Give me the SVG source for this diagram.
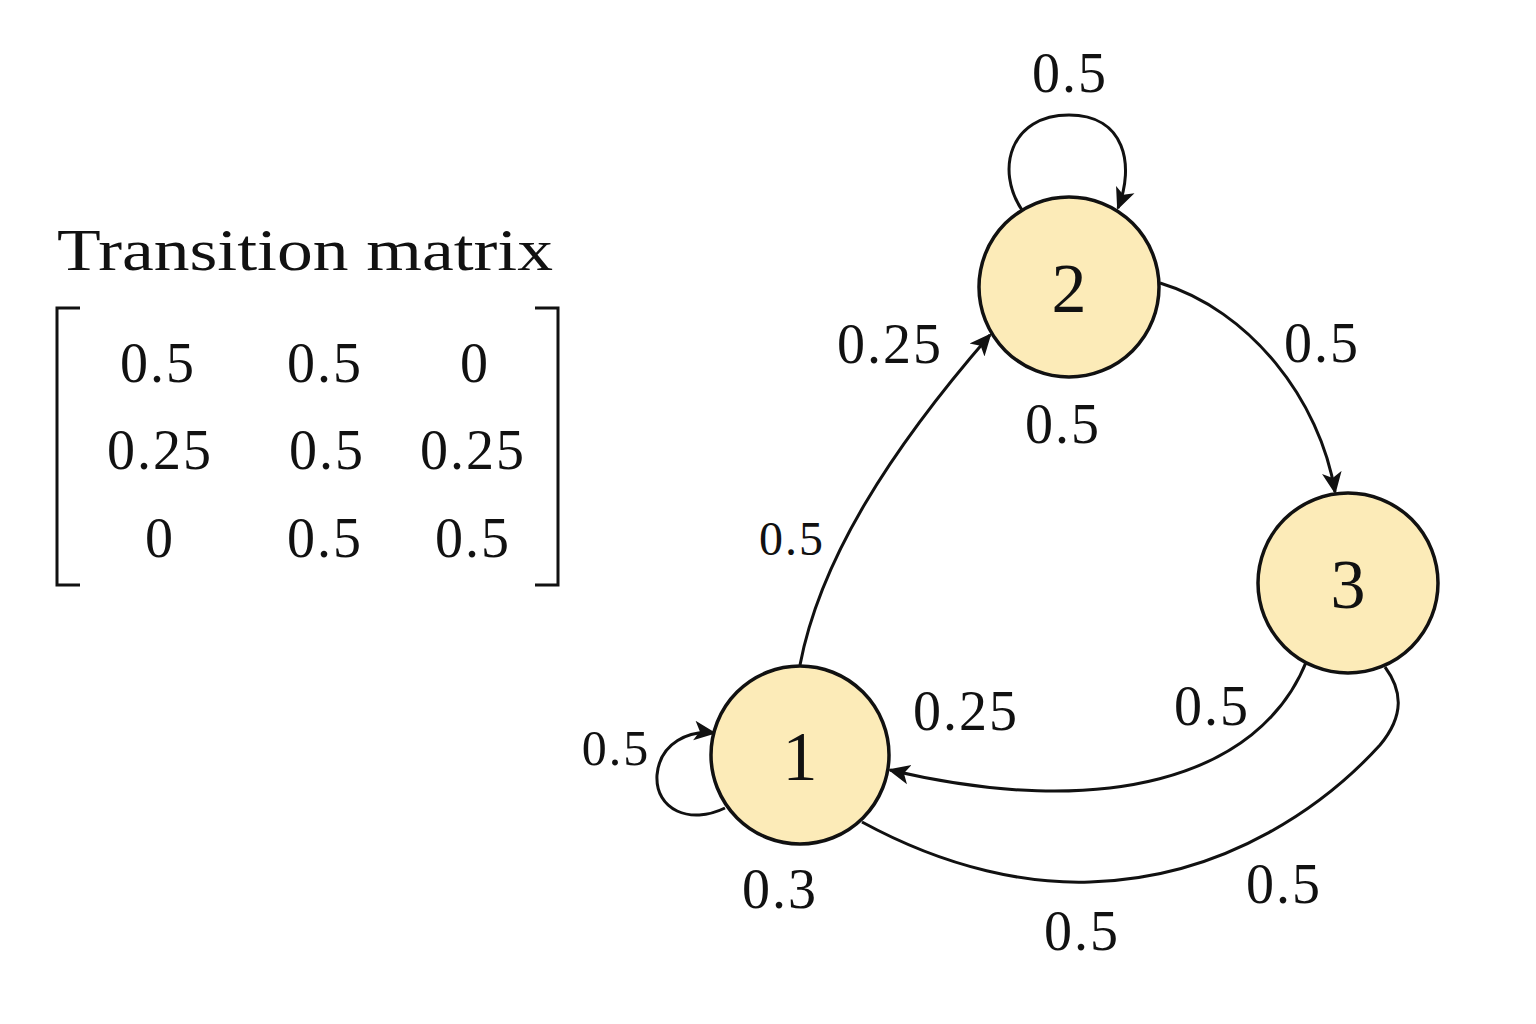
<svg xmlns="http://www.w3.org/2000/svg" width="1536" height="1024" viewBox="0 0 1536 1024">
<style>
text{font-family:"Liberation Serif","DejaVu Serif",serif;fill:#111;text-anchor:middle}
.l{font-size:56px;letter-spacing:2px}
.n{font-size:70px}
.node{fill:#fcebb8;stroke:#111;stroke-width:3.5}
.e{fill:none;stroke:#111;stroke-width:3}
</style>
<defs><marker id="a" viewBox="0 0 20 20" refX="18" refY="10" markerWidth="22" markerHeight="22" markerUnits="userSpaceOnUse" orient="auto"><path d="M0,1 L20,10 L0,19 L5,10 Z" fill="#111"/></marker></defs>
<rect width="1536" height="1024" fill="#fff"/>
<g id="matrix">
<text x="305" y="270" style="font-size:60px" textLength="496" lengthAdjust="spacingAndGlyphs">Transition matrix</text>
<path d="M80,308 H57 V585 H80 M535,308 H558 V585 H535" class="e"/>
<text class="l" x="158" y="382">0.5</text><text class="l" x="325" y="382">0.5</text><text class="l" x="475" y="382">0</text>
<text class="l" x="160" y="469">0.25</text><text class="l" x="327" y="469">0.5</text><text class="l" x="473" y="469">0.25</text>
<text class="l" x="160" y="557">0</text><text class="l" x="325" y="557">0.5</text><text class="l" x="473" y="557">0.5</text>
</g>
<g id="connectors">
<path class="e" marker-end="url(#a)" d="M1022,210 C995,170 1010,115 1069,115 C1125,115 1135,165 1118,208"/>
<path class="e" marker-end="url(#a)" d="M725,808 C690,825 655,810 657,775 C660,742 690,730 714,733"/>
<path class="e" marker-end="url(#a)" d="M800,665 C820,560 890,450 990,335"/>
<path class="e" marker-end="url(#a)" d="M1160,283 C1250,310 1320,400 1335,492"/>
<path class="e" marker-end="url(#a)" d="M1307,660 C1260,780 1100,820 890,770"/>
<path class="e" d="M862,822 C950,870 1030,884 1090,882 C1230,878 1330,800 1380,745 C1405,715 1402,690 1385,667"/>
</g>
<g id="labels">
<text class="l" x="1070" y="92">0.5</text>
<text class="l" x="890" y="363">0.25</text>
<text class="l" x="1063" y="443">0.5</text>
<text class="l" x="1322" y="362">0.5</text>
<text class="l" x="792" y="555" style="font-size:48px">0.5</text>
<text class="l" x="616" y="765" style="font-size:50px">0.5</text>
<text class="l" x="966" y="730">0.25</text>
<text class="l" x="1212" y="725">0.5</text>
<text class="l" x="780" y="908">0.3</text>
<text class="l" x="1082" y="950">0.5</text>
<text class="l" x="1284" y="903">0.5</text>
</g>
<g id="node1"><circle class="node" cx="800" cy="755" r="89"/><text class="n" x="800" y="780">1</text></g>
<g id="node2"><circle class="node" cx="1069" cy="287" r="90"/><text class="n" x="1069" y="312">2</text></g>
<g id="node3"><circle class="node" cx="1348" cy="583" r="90"/><text class="n" x="1348" y="608">3</text></g>
</svg>
